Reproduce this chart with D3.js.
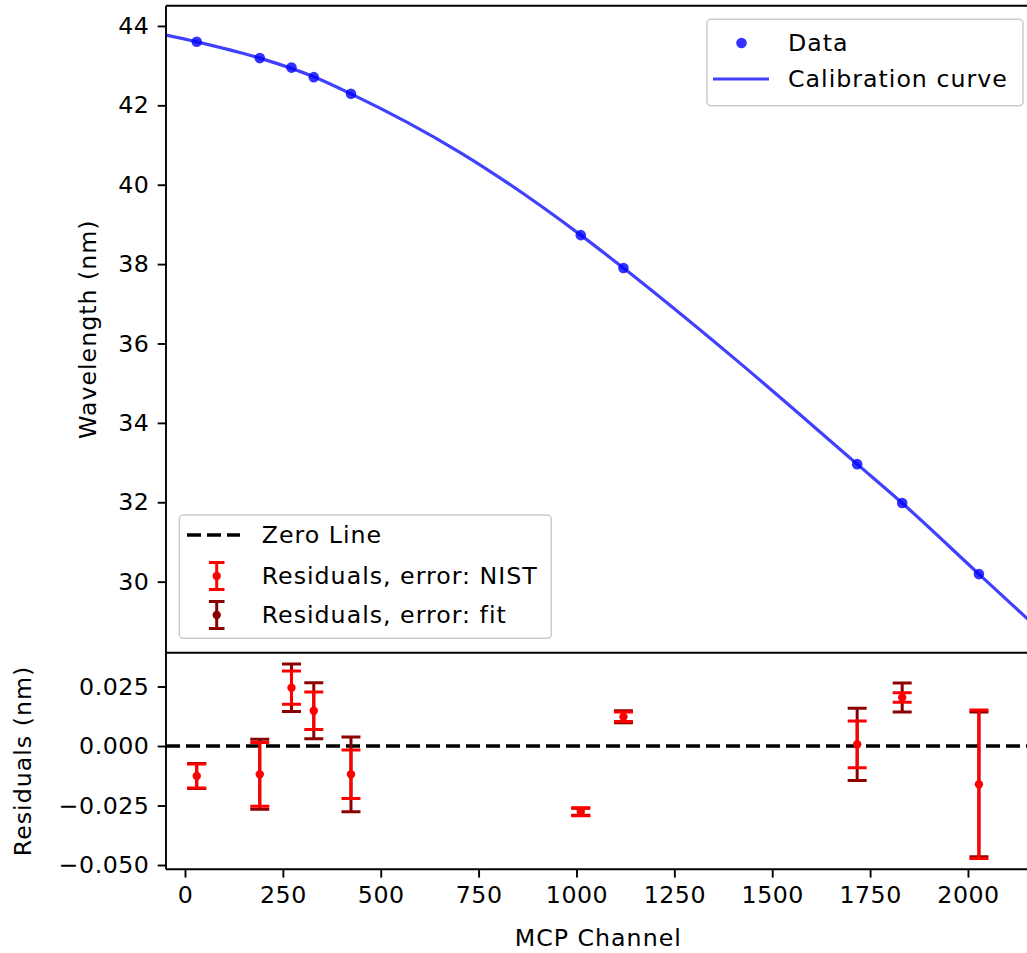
<!doctype html>
<html>
<head>
<meta charset="utf-8">
<script src="https://d3js.org/d3.v7.min.js"></script>
<style>
  body { margin: 0; background: #fff; }
  svg text { font-family: "DejaVu Sans", sans-serif; fill: #000; letter-spacing: 1px; }
  svg .tick text { letter-spacing: 0.5px; }
</style>
</head>
<body>
<svg id="chart" width="1027" height="953"></svg>
<script>
// ---- data ----
var channels    = [30, 191, 272, 329, 424, 1011, 1120, 1717, 1832, 2028];
var wavelengths = [43.60, 43.19, 42.95, 42.71, 42.29, 38.73, 37.90, 32.96, 31.98, 30.19];

// calibration curve, sampled from the drawn line
var curveCh = [-48.5, 30, 191, 329, 424, 700, 1011, 1120, 1400, 1717, 1832, 2028, 2160];
var curveNm = [43.77, 43.60, 43.19, 42.72, 42.29, 40.83, 38.73, 37.90, 35.65, 32.96, 31.98, 30.19, 28.99];

var residuals = [-0.0126, -0.0119, 0.0245, 0.0148, -0.0119, -0.0276, 0.0123, 0.0007, 0.0204, -0.0161];
var errNist   = [0.0050, 0.0134, 0.0070, 0.0079, 0.0102, 0.0017, 0.0020, 0.0098, 0.0020, 0.0312];
var errFit    = [0.0053, 0.0147, 0.0100, 0.0118, 0.0157, 0.0015, 0.0025, 0.0152, 0.0061, 0.0304];

var xTicks    = [0, 250, 500, 750, 1000, 1250, 1500, 1750, 2000];
var yTopTicks = [30, 32, 34, 36, 38, 40, 42, 44];
var yResTicks = [-0.050, -0.025, 0.000, 0.025];

// ---- layout ----
var left = 166, right = 1030.6,
    topY = 5.7, midY = 652.7, botY = 869.3;
var fs = 23.7, tickLen = 8.3, pad = 8.3, lw = 1.9;

var svg = d3.select("#chart");

var x = d3.scaleLinear().domain([-48.5, 2160]).range([left, right]);
var yTop = d3.scaleLinear().domain([28.21, 44.51]).range([midY, topY]);
var yRes = d3.scaleLinear().domain([-0.0518, 0.0392]).range([botY, midY]);

var defs = svg.append("defs");
defs.append("clipPath").attr("id", "clipTop").append("rect")
  .attr("x", left).attr("y", topY).attr("width", right - left).attr("height", midY - topY);
defs.append("clipPath").attr("id", "clipRes").append("rect")
  .attr("x", left).attr("y", midY).attr("width", right - left).attr("height", botY - midY);

// ---- top panel ----
var gTop = svg.append("g").attr("clip-path", "url(#clipTop)");

var line = d3.line()
  .x(function(d, i) { return x(curveCh[i]); })
  .y(function(d) { return yTop(d); })
  .curve(d3.curveMonotoneX);

gTop.append("path")
  .datum(curveNm)
  .attr("d", line)
  .attr("fill", "none")
  .attr("stroke", "blue")
  .attr("stroke-opacity", 0.75)
  .attr("stroke-width", 3.2);

gTop.selectAll("circle.pt")
  .data(wavelengths)
  .enter().append("circle")
  .attr("class", "pt")
  .attr("cx", function(d, i) { return x(channels[i]); })
  .attr("cy", function(d) { return yTop(d); })
  .attr("r", 5.3)
  .attr("fill", "blue")
  .attr("fill-opacity", 0.8);

// ---- residual panel ----
var gRes = svg.append("g").attr("clip-path", "url(#clipRes)");

gRes.append("line")
  .attr("x1", left).attr("x2", right)
  .attr("y1", yRes(0)).attr("y2", yRes(0))
  .attr("stroke", "#000")
  .attr("stroke-width", 3.6)
  .attr("stroke-dasharray", "14,6");

function errorbars(errs, color) {
  var g = gRes.append("g").attr("stroke", color).attr("stroke-width", 3);
  residuals.forEach(function(r, i) {
    var cx = x(channels[i]);
    var y1 = yRes(r + errs[i]), y2 = yRes(r - errs[i]);
    g.append("line").attr("x1", cx).attr("x2", cx).attr("y1", y1).attr("y2", y2);
    g.append("line").attr("x1", cx - 9.5).attr("x2", cx + 9.5).attr("y1", y1).attr("y2", y1);
    g.append("line").attr("x1", cx - 9.5).attr("x2", cx + 9.5).attr("y1", y2).attr("y2", y2);
  });
  return g;
}
errorbars(errFit, "#8b0000");
errorbars(errNist, "red");

gRes.selectAll("circle.res")
  .data(residuals)
  .enter().append("circle")
  .attr("class", "res")
  .attr("cx", function(d, i) { return x(channels[i]); })
  .attr("cy", function(d) { return yRes(d); })
  .attr("r", 4.2)
  .attr("fill", "red");

// ---- axes ----
function styleAxis(g) {
  g.selectAll("text").style("font-size", fs + "px").attr("fill", "#000");
  g.selectAll(".tick line").attr("stroke", "#000").attr("stroke-width", lw);
  g.select(".domain").remove();
}

svg.append("g")
  .attr("transform", "translate(" + left + ",0)")
  .call(d3.axisLeft(yTop).tickValues(yTopTicks).tickSize(tickLen).tickPadding(pad).tickFormat(d3.format("d")))
  .call(styleAxis);

svg.append("g")
  .attr("transform", "translate(" + left + ",0)")
  .call(d3.axisLeft(yRes).tickValues(yResTicks).tickSize(tickLen).tickPadding(pad).tickFormat(d3.format(".3f")))
  .call(styleAxis);

svg.append("g")
  .attr("transform", "translate(0," + botY + ")")
  .call(d3.axisBottom(x).tickValues(xTicks).tickSize(tickLen).tickPadding(pad).tickFormat(d3.format("d")))
  .call(styleAxis);

// spines
var spines = svg.append("g").attr("stroke", "#000").attr("stroke-width", lw).attr("fill", "none");
spines.append("line").attr("x1", left).attr("x2", left).attr("y1", topY).attr("y2", botY);
spines.append("line").attr("x1", left).attr("x2", right).attr("y1", topY).attr("y2", topY);
spines.append("line").attr("x1", left).attr("x2", right).attr("y1", midY).attr("y2", midY);
spines.append("line").attr("x1", left).attr("x2", right).attr("y1", botY).attr("y2", botY);
spines.append("line").attr("x1", right).attr("x2", right).attr("y1", topY).attr("y2", botY);

// axis labels
svg.append("text")
  .attr("x", (left + right) / 2).attr("y", 946)
  .attr("text-anchor", "middle")
  .style("font-size", fs + "px")
  .text("MCP Channel");

svg.append("text")
  .attr("transform", "translate(96," + (topY + midY) / 2 + ") rotate(-90)")
  .attr("text-anchor", "middle")
  .style("font-size", fs + "px")
  .text("Wavelength (nm)");

svg.append("text")
  .attr("transform", "translate(31," + (midY + botY) / 2 + ") rotate(-90)")
  .attr("text-anchor", "middle")
  .style("font-size", fs + "px")
  .text("Residuals (nm)");

// ---- legends ----
function legendBox(x0, y0, w, h) {
  svg.append("rect")
    .attr("x", x0).attr("y", y0).attr("width", w).attr("height", h)
    .attr("rx", 4).attr("ry", 4)
    .attr("fill", "#fff").attr("fill-opacity", 0.8)
    .attr("stroke", "#cccccc").attr("stroke-width", 1.5);
}
function legendText(tx, ty, s) {
  svg.append("text").attr("x", tx).attr("y", ty).attr("dy", "0.35em")
    .style("font-size", fs + "px").text(s);
}

// top-right legend
legendBox(707, 19.3, 316, 86.5);
svg.append("circle").attr("cx", 741.5).attr("cy", 43).attr("r", 5.3)
  .attr("fill", "blue").attr("fill-opacity", 0.8);
legendText(788, 43, "Data");
svg.append("line").attr("x1", 713).attr("x2", 769).attr("y1", 79).attr("y2", 79)
  .attr("stroke", "blue").attr("stroke-opacity", 0.75).attr("stroke-width", 3.2);
legendText(788, 79, "Calibration curve");

// residual legend
legendBox(179.3, 515, 372, 123.3);
svg.append("line").attr("x1", 187).attr("x2", 240).attr("y1", 535).attr("y2", 535)
  .attr("stroke", "#000").attr("stroke-width", 3.6).attr("stroke-dasharray", "14,6");
legendText(261.7, 535, "Zero Line");

function legendErr(cx, cy, color) {
  var g = svg.append("g").attr("stroke", color).attr("stroke-width", 3);
  g.append("line").attr("x1", cx).attr("x2", cx).attr("y1", cy - 13.5).attr("y2", cy + 13.5);
  g.append("line").attr("x1", cx - 7.8).attr("x2", cx + 7.8).attr("y1", cy - 13.5).attr("y2", cy - 13.5);
  g.append("line").attr("x1", cx - 7.8).attr("x2", cx + 7.8).attr("y1", cy + 13.5).attr("y2", cy + 13.5);
  svg.append("circle").attr("cx", cx).attr("cy", cy).attr("r", 4.2).attr("fill", color);
}
legendErr(216.7, 576, "red");
legendText(261.7, 576, "Residuals, error: NIST");
legendErr(216.7, 615, "#8b0000");
legendText(261.7, 615, "Residuals, error: fit");
</script>
</body>
</html>
